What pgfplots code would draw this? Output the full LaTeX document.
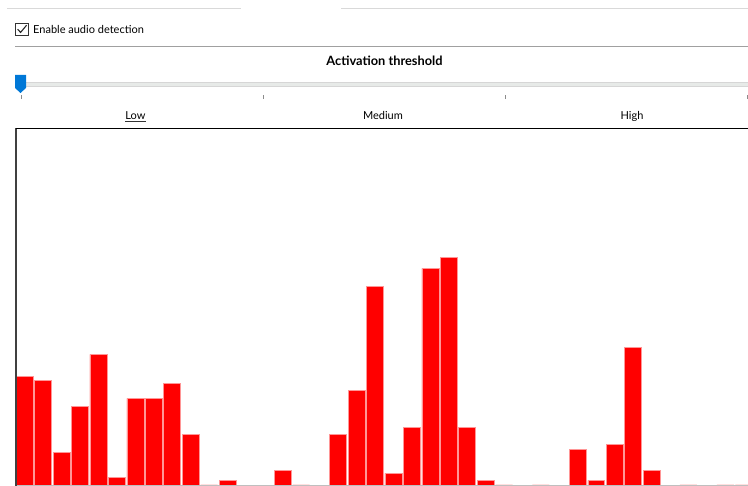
\documentclass[border=0pt]{standalone}
\usepackage{pgfplots}
\pgfplotsset{compat=1.18}
\usepackage{fontspec}
\setmainfont{Lato}
\definecolor{barred}{RGB}{255,0,0}
\definecolor{baredge}{RGB}{255,150,150}
\definecolor{uigrey}{RGB}{217,217,217}
\definecolor{sepgrey}{RGB}{160,160,160}
\definecolor{trackfill}{RGB}{231,234,232}
\definecolor{trackedge}{RGB}{214,214,214}
\definecolor{thumbblue}{RGB}{0,120,215}
\begin{document}
\begin{tikzpicture}
\useasboundingbox (0,0) rectangle (748bp,486bp);
\begin{scope}[x=1bp,y=-1bp,shift={(0bp,486bp)}]
  % tab strip lines
  \draw[uigrey,line width=1bp] (7,8.5) -- (241,8.5);
  \draw[uigrey,line width=1bp] (341,8.5) -- (748,8.5);
  % checkbox
  \draw[black!80,line width=0.9bp] (15.5,23.5) rectangle (28.5,35.5);
  \draw[black!85,line width=1.1bp] (17.6,29.2) -- (20.6,32.4) -- (26.6,25.2);
  \node[anchor=base west,inner sep=0pt,font=\fontsize{11bp}{13bp}\selectfont] at (33,33.5) {Enable audio detection};
  % separator
  \draw[sepgrey,line width=1bp] (15,46.5) -- (748,46.5);
  % title
  \node[anchor=base,inner sep=0pt,font=\fontsize{12.8bp}{14bp}\selectfont\bfseries] at (384.5,66) {Activation threshold};
  % slider track
  \filldraw[fill=trackfill,draw=trackedge,line width=0.8bp] (15,82) rectangle (749,86);
  % thumb
  \fill[thumbblue] (15,75) -- (26,75) -- (26,88) -- (20.5,93) -- (15,88) -- cycle;
  % ticks
  \foreach \tx in {21,263,505,747} {\draw[black!45,line width=0.8bp] (\tx,95.5) -- (\tx,99);}
  % labels
  \node[anchor=base,inner sep=0pt,font=\fontsize{11bp}{13bp}\selectfont] (low) at (135.5,119.5) {Low};
  \draw[black!80,line width=0.7bp] ([yshift=-1.6bp]low.base west) -- ([yshift=-1.6bp]low.base east);
  \node[anchor=base,inner sep=0pt,font=\fontsize{11bp}{13bp}\selectfont] at (383,119.5) {Medium};
  \node[anchor=base,inner sep=0pt,font=\fontsize{11bp}{13bp}\selectfont] at (632,119.5) {High};
\end{scope}
\begin{axis}[
  at={(16bp,0.5bp)}, anchor=south west,
  scale only axis, width=732bp, height=357bp,
  xmin=0, xmax=39.7, ymin=0, ymax=357,
  axis lines=none, clip=false,
  ybar, bar width=0.92,
  ticks=none,
]
\addplot[fill=barred, draw=baredge, line width=0.5bp] coordinates {
(0.47,109) (1.47,105) (2.47,33) (3.47,79) (4.47,131) (5.47,8) (6.47,87) (7.47,87) (8.47,102) (9.47,51)
(10.47,0.7) (11.47,5) (12.47,0) (13.47,0) (14.47,15) (15.47,0.7) (16.47,0) (17.47,51) (18.47,95) (19.47,199)
(20.47,12) (21.47,58) (22.47,217) (23.47,228) (24.47,58) (25.47,5) (26.47,0.7) (27.47,0) (28.47,0.7) (29.47,0)
(30.47,36) (31.47,5) (32.47,41) (33.47,138) (34.47,15) (35.47,0) (36.47,0.7) (37.47,0) (38.47,0.7) (39.47,0.7)
};
\draw[black!25,line width=1bp] (rel axis cs:0,0) -- (rel axis cs:1.01,0);
\draw[black!75,line width=1.2bp] (rel axis cs:0,0) -- (rel axis cs:0,1);
\draw[black,line width=1.2bp] (rel axis cs:0,1) -- (rel axis cs:1.01,1);
\end{axis}
\end{tikzpicture}
\end{document}
